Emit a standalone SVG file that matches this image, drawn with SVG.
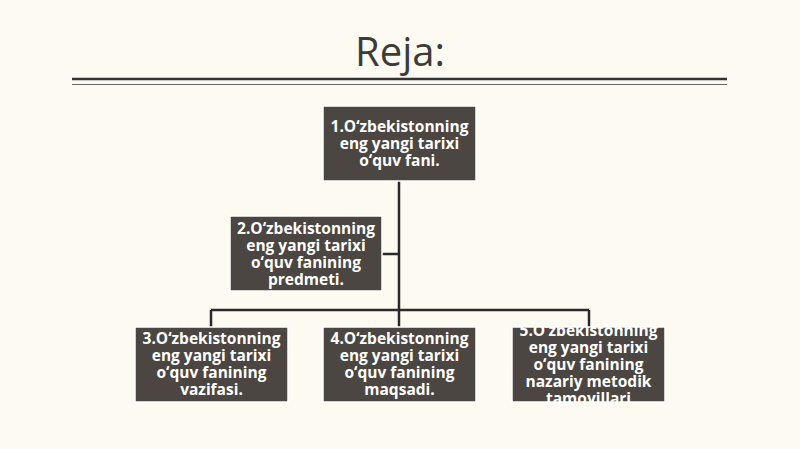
<svg xmlns="http://www.w3.org/2000/svg" width="800" height="449" viewBox="0 0 800 449">
<style>
.box{fill:#4b4641;stroke:#ffffff;stroke-width:1.5}
.t{font-family:"Open Sans","Noto Sans",sans-serif;font-weight:bold;font-size:15.5px;fill:#ffffff;text-anchor:middle}
.c{stroke:#2a2a2a;stroke-width:2.5;fill:none}
</style>
<defs>
<clipPath id="clip5"><rect x="512" y="327" width="153" height="75"/></clipPath>
</defs>
<rect width="800" height="449" fill="#fdfbf1"/>
<text x="400" y="66" font-family="'Open Sans','Noto Sans',sans-serif" font-size="40" fill="#3b3b3b" text-anchor="middle">Reja:</text>
<line x1="72" y1="79" x2="727" y2="79" stroke="#333333" stroke-width="2.5"/>
<line x1="72" y1="84.5" x2="727" y2="84.5" stroke="#666666" stroke-width="1"/>
<g id="connectors">
<path class="c" d="M399 181 V327 M211 310 H589 M211 310 V327 M589 310 V327 M382 254 H399"/>
</g>
<g id="node1">
<rect class="box" x="323" y="106" width="153" height="75"/>
<text class="t" x="399.5" y="132">1.O‘zbekistonning</text>
<text class="t" x="399.5" y="149">eng yangi tarixi</text>
<text class="t" x="399.5" y="166">o‘quv fani.</text>
</g>
<g id="node2">
<rect class="box" x="230" y="216" width="152" height="75"/>
<text class="t" x="306" y="234">2.O‘zbekistonning</text>
<text class="t" x="306" y="251">eng yangi tarixi</text>
<text class="t" x="306" y="268">o‘quv fanining</text>
<text class="t" x="306" y="285">predmeti.</text>
</g>
<g id="node3">
<rect class="box" x="135" y="327" width="153" height="75"/>
<text class="t" x="211.5" y="344">3.O‘zbekistonning</text>
<text class="t" x="211.5" y="361">eng yangi tarixi</text>
<text class="t" x="211.5" y="378">o‘quv fanining</text>
<text class="t" x="211.5" y="395">vazifasi.</text>
</g>
<g id="node4">
<rect class="box" x="323" y="327" width="153" height="75"/>
<text class="t" x="399.5" y="344">4.O‘zbekistonning</text>
<text class="t" x="399.5" y="361">eng yangi tarixi</text>
<text class="t" x="399.5" y="378">o‘quv fanining</text>
<text class="t" x="399.5" y="395">maqsadi.</text>
</g>
<g id="node5">
<rect class="box" x="512" y="327" width="153" height="75"/>
<g clip-path="url(#clip5)">
<text class="t" x="588.5" y="336">5.O‘zbekistonning</text>
<text class="t" x="588.5" y="353">eng yangi tarixi</text>
<text class="t" x="588.5" y="370">o‘quv fanining</text>
<text class="t" x="588.5" y="387">nazariy metodik</text>
<text class="t" x="588.5" y="404">tamoyillari</text>
</g>
</g>
</svg>
